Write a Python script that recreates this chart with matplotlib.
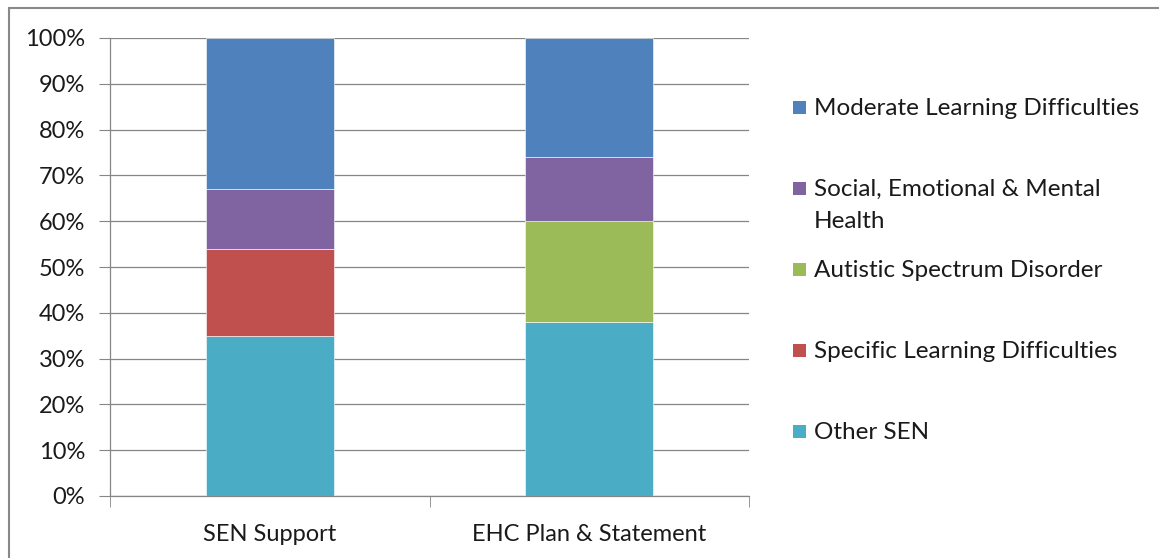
import matplotlib
matplotlib.use("Agg")
import matplotlib.pyplot as plt
import numpy as np
from matplotlib.patches import Rectangle

groups = ["SEN Support", "EHC Plan & Statement"]
# stacked bottom -> top
series = ["Other SEN", "Specific Learning Difficulties", "Autistic Spectrum Disorder",
          "Social, Emotional & Mental\nHealth", "Moderate Learning Difficulties"]
other_sen = [35, 38]
spld = [19, 0]
asd = [0, 22]
semh = [13, 14]
mld = [33, 26]
colors = ["#4BACC6", "#C0504D", "#9BBB59", "#8064A2", "#4F81BD"]

plt.rcParams['font.family'] = ['Lato', 'DejaVu Sans']
fs = 17

fig = plt.figure(figsize=(11.59, 5.58), dpi=100)
ax = fig.add_axes([110/1159, 62/558, 639/1159, 458/558])

x = np.arange(len(groups))
bottom = np.zeros(len(groups))
for vals, col in zip([other_sen, spld, asd, semh, mld], colors):
    ax.bar(x, vals, width=0.4, bottom=bottom, color=col, edgecolor="#ffffff", linewidth=0.4, zorder=3)
    bottom += np.array(vals)

ax.set_xlim(-0.5, 1.5)
ax.set_ylim(0, 100)
ax.set_yticks(range(0, 101, 10))
ax.set_yticklabels([f"{v}%" for v in range(0, 101, 10)], fontsize=fs, color="#1a1a1a")
ax.set_xticks(x)
ax.set_xticklabels(groups, fontsize=fs, color="#1a1a1a")
ax.set_xticks([-0.5, 0.5, 1.5], minor=True)
ax.tick_params(axis="x", which="major", length=0, pad=20)
ax.tick_params(axis="x", which="minor", length=8, color="#868686", direction="out")
ax.tick_params(axis="y", length=8, color="#868686", direction="out", pad=10)
ax.grid(axis="y", color="#868686", linewidth=0.9, zorder=0)
for s in ["top", "right"]:
    ax.spines[s].set_visible(False)
for s in ["left", "bottom"]:
    ax.spines[s].set_color("#868686")
    ax.spines[s].set_linewidth(0.9)

# legend (top entry first), placed like the original
for i, (name, col) in enumerate(zip(series[::-1], colors[::-1])):
    yc = 1 - (108 + 81 * i) / 558
    fig.patches.append(Rectangle((793/1159, yc - 6/558), 13/1159, 13/558, transform=fig.transFigure,
                                 facecolor=col, edgecolor="none"))
    fig.text(814/1159, yc + 10/558, name, fontsize=17.5, color="#1a1a1a", va="top", linespacing=1.65)

# chart frame
fig.patches.append(Rectangle((9/1159, -0.05), 1.1, 1 - 8/558 + 0.05, transform=fig.transFigure,
                             facecolor="none", edgecolor="#898989", linewidth=1.5))

fig.savefig("out.png", dpi=100)
